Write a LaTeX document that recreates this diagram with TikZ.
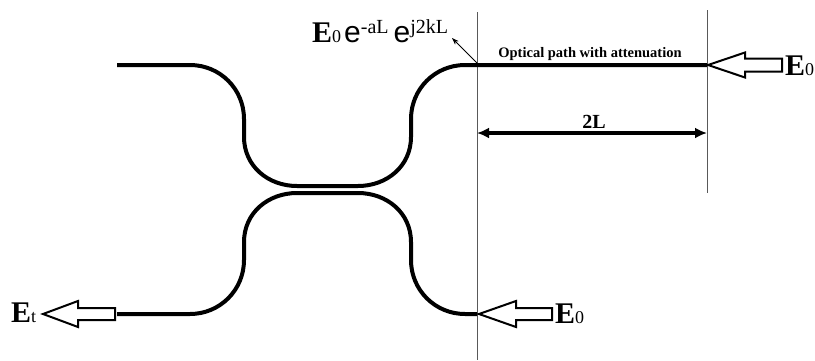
\documentclass[tikz,border=0pt]{standalone}
\usepackage{fontspec}
\setmainfont{Liberation Serif}
\newfontfamily\arialfont{Liberation Sans}
\usetikzlibrary{arrows.meta}
\usetikzlibrary{calc}

% field labels E_0, E_t
\newcommand{\fieldlbl}[1]{{\fontsize{30}{30}\selectfont\bfseries E}{\fontsize{18}{18}\selectfont #1}}

\tikzset{
  guide/.style={line width=4pt, line join=round},
  ruler/.style={line width=1pt, black!65},
  hollow/.style={line width=2pt, fill=white, line join=miter},
  dimline/.style={line width=3.5pt, {Latex[length=12pt,width=11pt]}-{Latex[length=12pt,width=11pt]}},
  lbl/.style={inner sep=0pt, anchor=base west},
}

\begin{document}
\begin{tikzpicture}[x=1pt,y=-1pt]
  \useasboundingbox (0,0) rectangle (815,360);
  % rulers
  \coordinate (rulAtop) at (477,12);
  \coordinate (rulAbot) at (477,360);
  \coordinate (rulBtop) at (707,10);
  \coordinate (rulBbot) at (707,193);
  \draw[ruler] (rulAtop) -- (rulAbot);
  \draw[ruler] (rulBtop) -- (rulBbot);
  % waveguides
  \draw[guide] (117,65) -- (190,65) .. controls (220,65) and (244,89) .. (244,119) -- (244,137)
    .. controls (244,166) and (268,186) .. (297,186) -- (358,186)
    .. controls (387,186) and (411,166) .. (411,137) -- (411,119)
    .. controls (411,89) and (435,65) .. (465,65) -- (707,65);
  \draw[guide] (117,314) -- (190,314) .. controls (220,314) and (244,290) .. (244,260) -- (244,242)
    .. controls (244,213) and (268,193) .. (297,193) -- (358,193)
    .. controls (387,193) and (411,213) .. (411,242) -- (411,260)
    .. controls (411,290) and (435,314) .. (465,314) -- (477,314);
  % hollow arrows
  \coordinate (inTop) at (708,65);
  \coordinate (inBot) at (479,314);
  \coordinate (outBot) at (43,314);
  \draw[hollow] (inTop) -- ++(37,-12.5) -- ++(0,6) -- ++(37,0) -- ++(0,13) -- ++(-37,0) -- ++(0,6) -- cycle;
  \draw[hollow] (inBot) -- ++(37,-13) -- ++(0,7) -- ++(36,0) -- ++(0,12) -- ++(-36,0) -- ++(0,7) -- cycle;
  \draw[hollow] (outBot) -- ++(35,-13) -- ++(0,7) -- ++(37,0) -- ++(0,12) -- ++(-37,0) -- ++(0,7) -- cycle;
  \node[lbl] (eTop) at (785,75) {\fieldlbl{0}};
  \node[lbl] (eBot) at (555,323) {\fieldlbl{0}};
  \node[lbl] (eOut) at (11,322) {\fieldlbl{t}};
  % 2L
  \coordinate (dimA) at (477,133);
  \coordinate (dimB) at (707,133);
  \draw[dimline] (dimA) -- (dimB);
  \node[inner sep=0pt, anchor=base] (len) at (594,128) {\fontsize{20}{20}\selectfont\bfseries 2L};
  \node[inner sep=0pt, anchor=base] (path) at (590,57) {\fontsize{14.5}{14.5}\selectfont\bfseries Optical path with attenuation};
  % output field
  \node[lbl] (field) at (312,42) {\fieldlbl{0}\hspace{3pt}{\arialfont\fontsize{30}{30}\selectfont e}\raisebox{9pt}{\fontsize{20}{20}\selectfont -aL}\hspace{5pt}{\arialfont\fontsize{30}{30}\selectfont e}\raisebox{9pt}{\fontsize{20}{20}\selectfont j2kL}};
  \coordinate (junct) at (477,63);
  \coordinate (lbltip) at (452,38);
  \draw[line width=1pt, -{Stealth[length=7pt,width=5pt]}] (junct) -- (lbltip);
\end{tikzpicture}
\end{document}
